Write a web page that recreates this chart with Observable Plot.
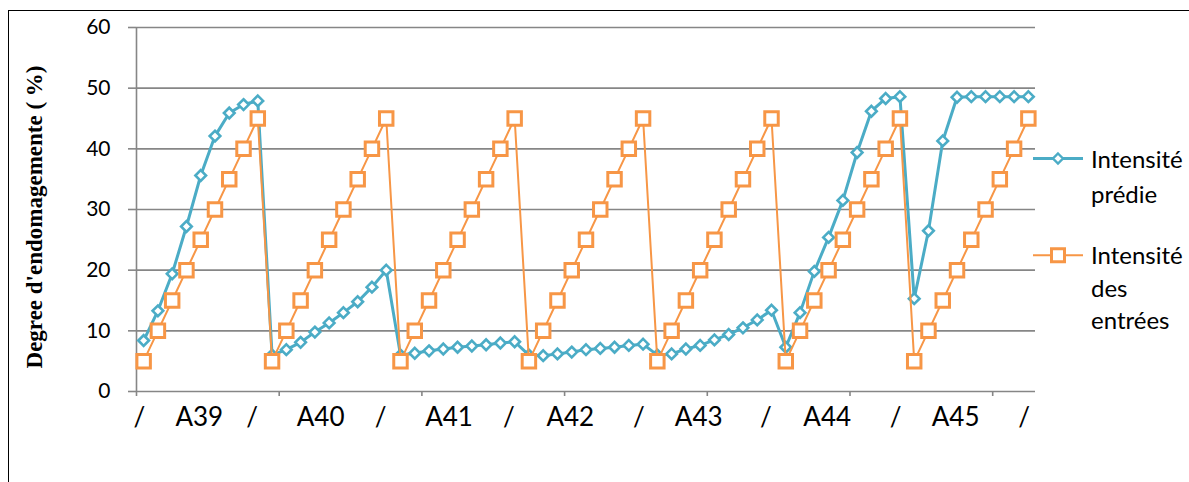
<!DOCTYPE html>
<html>
<head>
<meta charset="utf-8">
<script src="https://cdn.jsdelivr.net/npm/d3@7"></script>
<script src="https://cdn.jsdelivr.net/npm/@observablehq/plot@0.6"></script>
<style>
  html, body { margin: 0; padding: 0; background: #fff; overflow: hidden; }
  #wrap { position: relative; width: 1189px; height: 482px; font-family: Lato, "Open Sans", sans-serif; }
  #frame { position: absolute; left: 8px; top: 10px; width: 1300px; height: 600px; border-left: 1px solid #000; border-top: 1px solid #000; pointer-events: none; }
  .leg { position: absolute; left: 1033px; font-size: 24px; color: #000; }
  .leg svg { position: absolute; left: 0; }
  .leg .t { position: absolute; left: 58px; white-space: nowrap; }
</style>
</head>
<body>
<div id="wrap">
  <div id="chart"></div>
  <div id="frame"></div>
</div>
<script>
// Groups (x-axis category labels)
const groupLabels = ["A39", "A40", "A41", "A42", "A43", "A44", "A45"];
const separatorLabel = "/";
// Tick label positions on the category index axis
const groupLabelPos = [4.4, 12.9, 21.9, 30.4, 39.4, 48.4, 57.4];
const separatorPos = [0.2, 8.1, 17.1, 26.1, 35.2, 44.1, 53.2, 62.2];
const xTickPos = [0, 10, 20, 30, 40, 50, 60];
const yTicks = [0, 10, 20, 30, 40, 50, 60];

// Series: Intensité des entrées
const inputs = [
  5, 10, 15, 20, 25, 30, 35, 40, 45,
  5, 10, 15, 20, 25, 30, 35, 40, 45,
  5, 10, 15, 20, 25, 30, 35, 40, 45,
  5, 10, 15, 20, 25, 30, 35, 40, 45,
  5, 10, 15, 20, 25, 30, 35, 40, 45,
  5, 10, 15, 20, 25, 30, 35, 40, 45,
  5, 10, 15, 20, 25, 30, 35, 40, 45
];
// Series: Intensité prédie
const predicted = [
  8.4, 13.3, 19.4, 27.2, 35.6, 42.1, 45.9, 47.3, 47.9,
  6.0, 6.9, 8.1, 9.8, 11.3, 13.0, 14.8, 17.2, 20.0,
  6.0, 6.3, 6.7, 7.0, 7.3, 7.5, 7.7, 8.0, 8.2,
  6.0, 5.9, 6.2, 6.5, 6.9, 7.1, 7.3, 7.6, 7.8,
  6.0, 6.2, 7.0, 7.6, 8.5, 9.4, 10.5, 11.8, 13.4,
  7.3, 13.0, 19.8, 25.4, 31.5, 39.4, 46.2, 48.3, 48.6,
  15.3, 26.5, 41.3, 48.5, 48.6, 48.6, 48.6, 48.6, 48.6
];

const blue = "#4BACC6";
const orange = "#F79646";
const gray = "#868686";

const rows = inputs.map((v, i) => ({ i: i + 0.5, input: v, pred: predicted[i] }));
const tickLabels = [
  ...separatorPos.map(p => ({ x: p, t: separatorLabel })),
  ...groupLabels.map((g, k) => ({ x: groupLabelPos[k], t: g }))
];

const chart = Plot.plot({
  width: 1189,
  height: 482,
  marginLeft: 136,
  marginRight: 154,
  marginTop: 27,
  marginBottom: 91,
  style: { fontFamily: "Lato, 'Open Sans', sans-serif", background: "transparent", color: "#000" },
  x: { domain: [0, 63] },
  y: { domain: [0, 60] },
  marks: [
    Plot.ruleY(yTicks, { stroke: gray, strokeWidth: 1.6 }),
    Plot.ruleX([0], { stroke: gray, strokeWidth: 1.6 }),
    Plot.axisY({ ticks: yTicks, tickSize: 8, stroke: gray, strokeWidth: 1.6, text: null, label: null }),
    Plot.axisY({ ticks: yTicks, tickSize: 0, tickPadding: 26, fontSize: 21, fill: "#000", label: null }),
    Plot.axisX({ ticks: xTickPos, tickSize: 5, stroke: gray, strokeWidth: 1.6, text: null, label: null }),
    Plot.text(tickLabels, { x: "x", text: "t", frameAnchor: "bottom", dy: 34, fontSize: 26, fill: "#000" }),
    Plot.line(rows, { x: "i", y: "pred", stroke: blue, strokeWidth: 3 }),
    Plot.dot(rows, { x: "i", y: "pred", symbol: "diamond2", r: 4.8, stroke: blue, strokeWidth: 2.6, fill: "#fff" }),
    Plot.line(rows, { x: "i", y: "input", stroke: orange, strokeWidth: 2 }),
    Plot.dot(rows, { x: "i", y: "input", symbol: "square", r: 7.6, stroke: orange, strokeWidth: 3, fill: "#fff" })
  ]
});

// y-axis title
d3.select(chart).append("text")
  .attr("transform", "translate(37,217) rotate(-90)")
  .attr("text-anchor", "middle")
  .attr("dominant-baseline", "middle")
  .attr("font-family", "'Liberation Serif', 'Times New Roman', serif")
  .attr("font-weight", "bold")
  .attr("font-size", 23)
  .attr("fill", "#000")
  .text("Degree d'endomagemente ( %)");

document.getElementById("chart").appendChild(chart);

// Legend
const legendItems = [
  { lines: ["Intensité", "prédie"], color: blue, shape: "diamond", top: 141, lh: 35 },
  { lines: ["Intensité", "des", "entrées"], color: orange, shape: "square", top: 239, lh: 32.5 }
];
const wrap = document.getElementById("wrap");
for (const it of legendItems) {
  const div = document.createElement("div");
  div.className = "leg";
  div.style.top = it.top + "px";
  const cy = it.lh / 2;
  const shape = it.shape === "diamond"
    ? `<path d="M25,${cy - 5} L30,${cy} L25,${cy + 5} L20,${cy} Z" fill="#fff" stroke="${it.color}" stroke-width="2.4"/>`
    : `<rect x="18.5" y="${cy - 6.5}" width="13" height="13" fill="#fff" stroke="${it.color}" stroke-width="3"/>`;
  div.innerHTML = `<svg width="52" height="${it.lh}" style="top:0"><line x1="0" x2="50" y1="${cy}" y2="${cy}" stroke="${it.color}" stroke-width="${it.shape === 'diamond' ? 3 : 2}"/>${shape}</svg>` +
    `<div class="t" style="line-height:${it.lh}px">${it.lines.join("<br>")}</div>`;
  wrap.appendChild(div);
}
</script>
</body>
</html>
